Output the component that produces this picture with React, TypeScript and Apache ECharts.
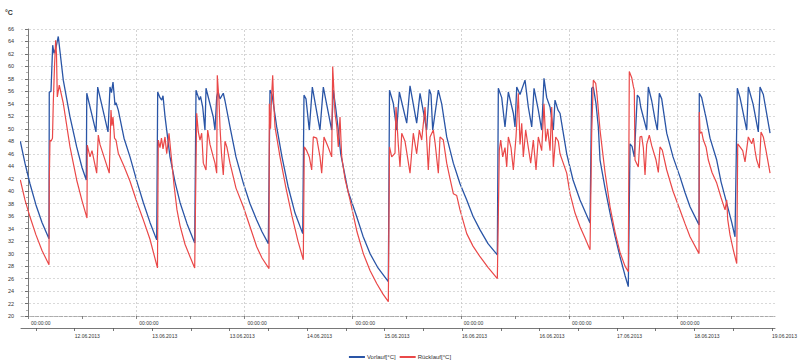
import React, { useEffect, useRef } from "react";
import * as echarts from "echarts";

// Hours since the first "00:00:00" tick, temperature in °C
const vorlauf: [number, number][] = [
  [-1.7, 48], [-0.67, 44.5], [0.44, 41.2], [1.77, 37.8], [3.11, 35], [4.66, 32.4],
  [4.72, 55.9], [5.1, 56], [5.48, 63.4], [5.77, 62.1], [6.21, 63], [6.72, 64.8], [7.83, 57.8], [9.32, 51.9], [10.8, 47.1], [11.98, 43.8], [12.93, 41.8],
  [13.04, 55.7], [15.08, 49.5], [15.46, 56.7], [17.75, 49.5], [18.19, 56.7], [18.52, 55.8], [18.86, 57.5], [19.3, 53.8], [19.52, 54.2], [20.03, 53], [21.3, 48.5], [22.63, 45.5], [24.18, 41.5], [25.58, 38.2], [27.06, 35], [28.55, 32.2],
  [28.77, 55.9], [29.28, 55], [29.66, 54.6], [29.95, 55.3], [30.39, 52], [30.77, 49.8], [31.5, 45.5], [32.61, 41.5], [33.72, 38.2], [35.27, 34.8], [36.98, 31.7],
  [37.27, 56.2], [38.0, 54.6], [38.27, 55.2], [38.75, 53.5], [39.26, 49.8], [39.49, 56.5], [41.1, 51.9], [41.48, 49.8], [41.86, 55.1], [42.15, 56], [42.59, 54.8], [43.32, 55.7], [43.7, 54.5], [44.81, 50.3], [46.14, 45.5], [47.76, 41.3], [49.25, 38], [50.73, 35.4], [51.91, 33.5], [53.31, 31.6],
  [53.68, 56.2], [54.13, 55.5], [55.17, 50.3], [56.34, 45.5], [57.68, 40.8], [59.23, 36.5], [60.94, 33.2],
  [61.22, 55.4], [61.67, 54.8], [62.4, 49.8], [63.07, 56.7], [64.77, 49.8], [65.51, 56.7], [67.37, 49.8], [67.73, 56.2], [68.32, 53], [68.83, 49.8], [69.37, 46], [70.99, 40], [72.92, 35.9], [74.31, 32.8], [75.87, 30], [77.64, 27.7], [79.93, 25.5],
  [80.19, 56.2], [81.03, 54.1], [81.79, 49.8], [82.37, 55.9], [84.01, 50.9], [84.74, 56.9], [86.22, 50.9], [86.96, 55.7], [88.44, 49.8], [89.02, 56.3], [89.4, 55.5], [89.77, 49.8], [91.02, 56.2], [91.77, 54], [92.88, 48.7], [94.35, 44.5], [95.83, 41.2], [97.32, 38.6], [98.71, 36], [100.27, 33.8], [102.04, 31.6], [104.11, 29.8],
  [104.33, 56.5], [105.08, 55], [105.81, 50.3], [106.55, 55.9], [107.66, 52.5], [108.03, 50.3], [108.41, 56.7], [109.14, 55.5], [110.25, 57.8], [110.98, 53.5], [111.74, 50.3], [112.25, 56.5], [113.2, 53], [113.95, 49.8], [114.46, 58.1], [115.06, 55], [115.8, 53.5], [116.53, 49.8], [116.9, 54.6], [117.57, 53], [118.01, 52.5], [119.5, 46], [120.9, 41.8], [122.45, 38.6], [124.67, 34.9],
  [125.04, 56.5], [125.4, 56.7], [126.0, 54], [126.51, 50.3], [126.89, 45], [128.0, 40.5], [129.11, 36.5], [130.21, 32.8], [131.32, 29.5], [132.43, 26.5], [133.16, 24.7],
  [133.54, 47.6], [133.99, 47.2], [134.49, 45.5], [135.16, 55.4], [135.6, 55], [135.91, 53.5], [137.24, 49.8], [137.6, 56.7], [138.35, 54.5], [139.09, 51.5], [139.6, 49.8], [140.04, 55.7], [140.57, 54.8], [141.68, 49.3], [143.08, 45.5], [144.63, 42.3], [145.74, 39.8], [146.85, 37.5], [148.85, 34.6],
  [148.91, 55.7], [149.44, 55], [150.18, 52.5], [150.4, 51.8], [151.29, 48.5], [152.77, 45], [153.73, 41.5], [154.99, 38.1], [156.1, 35], [156.83, 32.7],
  [157.34, 56.5], [157.94, 55], [159.43, 49.8], [159.78, 56.7], [160.83, 54], [162.0, 49.5], [162.38, 56.7], [163.11, 55.5], [164.6, 49.3],
];

const ruecklauf: [number, number][] = [
  [-1.7, 41.8], [-0.67, 38.6], [0.44, 35.9], [1.77, 33], [3.11, 30.5], [4.66, 28.2],
  [4.72, 41.5], [4.88, 48.2], [5.1, 48], [5.43, 48.5], [5.61, 54.1], [5.88, 60], [6.14, 64.2], [6.32, 62], [6.5, 55.1], [6.94, 57], [7.83, 54.1], [9.32, 47.1], [10.8, 41.8], [11.98, 38.5], [13.09, 35.7],
  [13.15, 47.4], [13.75, 45.5], [14.2, 46.5], [15.24, 42.9], [15.59, 49], [15.97, 47.5], [18.03, 42.9], [18.41, 53], [18.63, 50.5], [18.86, 51.9], [19.19, 48.5], [19.52, 48.2], [20.03, 46.1], [21.3, 44], [22.63, 41.6], [24.18, 38.2], [25.58, 35.4], [27.06, 32.3], [28.72, 27.7],
  [28.9, 48.2], [29.28, 47], [29.61, 48.5], [29.95, 46.8], [30.39, 48.7], [30.77, 46], [31.06, 47.8], [31.28, 49.3], [31.72, 46], [32.39, 41], [33.05, 37], [33.72, 34.5], [34.83, 31.5], [35.94, 29.5], [36.98, 27.7],
  [37.42, 52.5], [37.78, 49.5], [38.15, 48.2], [38.53, 49.3], [38.89, 44.5], [39.49, 43.4], [39.86, 49.8], [40.37, 47.5], [41.1, 45.5], [41.48, 44.5], [41.86, 42.9], [41.99, 58.6], [42.37, 54.6], [42.59, 50.3], [42.92, 46], [43.32, 42.6], [43.7, 48], [44.14, 47], [44.81, 44.5], [46.14, 40.5], [47.76, 37.5], [49.25, 34.3], [50.73, 31.1], [51.91, 29.3], [53.46, 27.6],
  [53.53, 54], [53.8, 50], [54.02, 55], [54.28, 58.6], [54.46, 55], [54.79, 50.3], [55.9, 45.5], [57.23, 40.5], [58.56, 36], [59.89, 32], [61.07, 29],
  [61.29, 47.1], [61.82, 46.5], [62.4, 45.5], [62.93, 43.4], [63.29, 48.7], [64.04, 48.5], [64.77, 45.5], [65.15, 42.9], [65.66, 48.7], [66.62, 47], [67.37, 45.5], [67.59, 60], [68.1, 52.5], [68.48, 50.5], [68.83, 47.1], [69.21, 51.9], [69.59, 45.5], [70.32, 42], [71.43, 38.6], [72.98, 33.5], [74.38, 30], [75.87, 27.3], [77.35, 25.2], [78.75, 23.5], [79.93, 22.3],
  [80.19, 47.1], [80.68, 45.5], [81.41, 46.1], [81.63, 53.5], [82.14, 47.5], [82.52, 43.9], [82.9, 49.3], [83.63, 48], [84.74, 42.9], [85.47, 49.3], [86.22, 46], [86.8, 49.8], [87.33, 48.2], [88.07, 53.5], [88.44, 48.2], [88.8, 43.4], [89.18, 48.7], [89.91, 49.8], [90.29, 47.8], [91.02, 42.9], [91.4, 48.7], [92.13, 48.2], [92.88, 44.5], [93.61, 42], [94.35, 39.6], [95.1, 39.3], [95.83, 37], [97.32, 33.2], [98.71, 31.2], [100.27, 29.5], [102.04, 27.8], [104.11, 26],
  [104.55, 46.6], [104.86, 48.2], [105.3, 45.5], [105.81, 47], [106.19, 43.9], [106.55, 48.7], [107.14, 47], [107.66, 43.4], [108.25, 48.7], [108.76, 55.7], [109.14, 47.5], [109.52, 50.9], [109.87, 45.5], [110.4, 49.8], [110.98, 47], [111.51, 44.5], [112.09, 48.2], [112.69, 43.4], [113.2, 48.7], [113.95, 46.5], [114.46, 54], [114.84, 48], [115.28, 50], [115.8, 46.5], [116.17, 53.5], [116.53, 43.9], [117.06, 48.7], [117.64, 48], [118.01, 46], [119.5, 42.9], [120.23, 39.6], [121.34, 36.5], [122.45, 34.3], [123.56, 32.5], [124.67, 30.6],
  [125.04, 49.3], [125.4, 57.8], [125.93, 57.3], [126.22, 55.5], [126.89, 49.8], [128.0, 43], [129.11, 37.5], [130.21, 33.5], [131.32, 30.2], [132.43, 28], [133.16, 27.1],
  [133.38, 59.2], [133.92, 58.2], [134.28, 56.8], [134.49, 56.2], [134.65, 45], [135.38, 43.9], [135.76, 48.7], [136.14, 48.8], [136.49, 47], [136.87, 42.6], [137.24, 47.5], [137.82, 49], [138.35, 47.3], [139.31, 45], [139.82, 43], [140.19, 47.1], [140.7, 46.6], [141.68, 43.4], [143.08, 40], [144.63, 37], [145.74, 34.8], [146.85, 32.7], [148.85, 30],
  [148.91, 52.7], [149.07, 49.3], [149.44, 49.5], [149.81, 48.2], [150.4, 47.1], [150.91, 45], [151.73, 43], [152.77, 41.3], [153.73, 39], [154.62, 37], [154.99, 38.6], [155.21, 35.5], [155.72, 33], [156.45, 30.6], [157.21, 28.4],
  [157.43, 47.6], [157.94, 47.1], [158.54, 46.5], [159.05, 44.7], [159.78, 48.7], [160.54, 47.6], [160.9, 48.5], [161.27, 46.5], [161.64, 45], [162.23, 43.7], [162.6, 49.5], [163.11, 48.7], [163.71, 46.5], [164.6, 42.9],
];

const timeLabelTicks = [0, 24, 48, 72, 96, 120, 144];
const timeMinorTicks = [0, 12, 24, 36, 48, 60, 72, 84, 96, 108, 120, 132, 144, 156];
const timeLabel = "00:00:00";
const dayGridLines = [24, 48, 72, 96, 120, 144];

const dateTicks = [0, 1, 2, 3, 4, 5, 6, 7, 8, 9, 10, 11, 12, 13, 14, 15, 16, 17, 18, 19];
const dateLabelTicks = [1, 3, 5, 7, 9, 11, 13, 15, 17, 19];
const dateLabels = [
  "12.06.2013", "13.06.2013", "13.06.2013", "14.06.2013", "15.06.2013",
  "16.06.2013", "16.06.2013", "17.06.2013", "18.06.2013", "19.06.2013",
];

const seriesNames = ["Vorlauf[°C]", "Rücklauf[°C]"];
const FONT = "Liberation Sans, Arial, sans-serif";

export default function App() {
  const ref = useRef<HTMLDivElement>(null);
  useEffect(() => {
    if (!ref.current) return;
    const chart = echarts.init(ref.current, undefined, { renderer: "svg" });
    chart.setOption({
      animation: false,
      backgroundColor: "#ffffff",
      textStyle: { fontFamily: FONT },
      graphic: [
        {
          type: "text",
          left: 5,
          top: 9,
          style: { text: "°C", fontSize: 7, fontWeight: "bold", fill: "#333", fontFamily: FONT },
        },
      ],
      legend: {
        data: seriesNames,
        left: "center",
        top: 349,
        icon: "rect",
        itemWidth: 16,
        itemHeight: 2,
        itemGap: 4,
        textStyle: { fontSize: 6, color: "#333", fontFamily: FONT, padding: [0, 0, 0, -3] },
      },
      grid: { left: 21, right: 25, top: 29, bottom: 45, containLabel: false },
      xAxis: [
        {
          type: "value",
          min: -1.55,
          max: 165.7,
          position: "bottom",
          axisLine: { show: true, lineStyle: { color: "#9a9a9a", width: 0.8, type: "dashed" } },
          axisTick: { show: true, customValues: timeMinorTicks, length: 3, lineStyle: { color: "#666", width: 0.8 } },
          axisLabel: {
            show: true,
            customValues: timeLabelTicks,
            formatter: () => timeLabel,
            fontSize: 5,
            color: "#333",
            align: "left",
            padding: [0, 0, 0, 3],
            margin: 4,
            fontFamily: FONT,
          },
          splitLine: { show: false },
        },
        {
          type: "value",
          min: -0.387,
          max: 19.08,
          position: "bottom",
          offset: 12,
          axisLine: { show: true, onZero: false, lineStyle: { color: "#555", width: 0.8 } },
          axisTick: { show: true, customValues: dateTicks, length: 3, lineStyle: { color: "#555", width: 0.8 } },
          axisLabel: {
            show: true,
            customValues: dateLabelTicks,
            formatter: (v: number) => dateLabels[dateLabelTicks.indexOf(Math.round(v))] ?? "",
            fontSize: 5,
            color: "#333",
            align: "left",
            margin: 5,
            fontFamily: FONT,
          },
          splitLine: { show: false },
        },
      ],
      yAxis: {
        type: "value",
        min: 20,
        max: 66,
        interval: 2,
        axisLine: { show: true, lineStyle: { color: "#555", width: 0.8 } },
        axisTick: { show: true, length: 3, lineStyle: { color: "#555", width: 0.8 } },
        minorTick: { show: true, splitNumber: 2, length: 2, lineStyle: { color: "#777", width: 0.6 } },
        axisLabel: { fontSize: 5.5, color: "#333", margin: 7, fontFamily: FONT },
        splitLine: { show: true, lineStyle: { color: "#cfcfcf", width: 0.8, type: [2, 2] } },
      },
      series: [
        {
          name: seriesNames[0],
          type: "line",
          xAxisIndex: 0,
          data: vorlauf,
          symbol: "none",
          showSymbol: false,
          color: "#2a55a6",
          lineStyle: { color: "#2a55a6", width: 1.3 },
          markLine: {
            silent: true,
            symbol: "none",
            label: { show: false },
            lineStyle: { color: "#c8c8c8", width: 0.8, type: [2, 2] },
            data: dayGridLines.map((h) => ({ xAxis: h })),
          },
        },
        {
          name: seriesNames[1],
          type: "line",
          xAxisIndex: 0,
          data: ruecklauf,
          symbol: "none",
          showSymbol: false,
          color: "#ea4848",
          lineStyle: { color: "#ea4848", width: 1.2 },
        },
      ],
    });
    return () => chart.dispose();
  }, []);
  return <div ref={ref} style={{ width: 800, height: 361, position: "absolute", left: 0, top: 0 }} />;
}
